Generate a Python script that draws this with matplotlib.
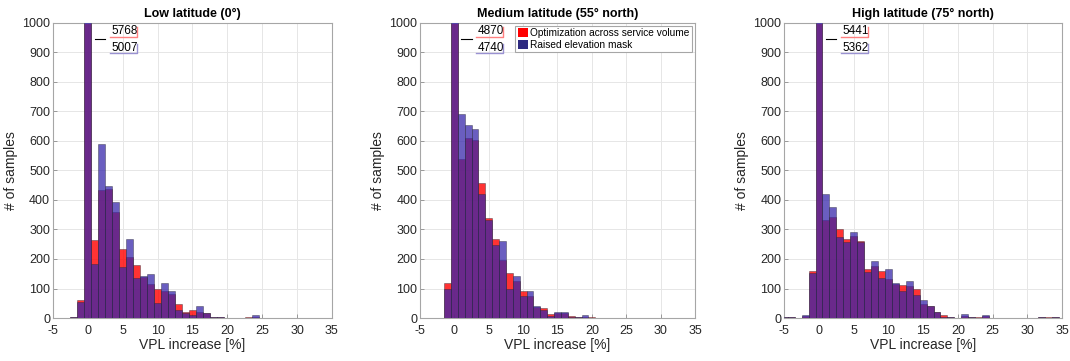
import numpy as np
import matplotlib
matplotlib.use('Agg')
import matplotlib.pyplot as plt
from matplotlib.patches import Patch

plt.rcParams['font.family'] = ['Liberation Sans', 'DejaVu Sans']
plt.rcParams['axes.unicode_minus'] = False

titles = ['Low latitude (0°)', 'Medium latitude (55° north)', 'High latitude (75° north)']
legend_labels = ['Optimization across service volume', 'Raised elevation mask']

# bin centres (bin width 1 %) and counts, red = optimization, blue = raised mask
low_bins = list(range(-2, 25))
low_red = [2, 62, 5768, 264, 434, 437, 358, 233, 206, 180, 140, 114, 99, 90, 82, 48, 20, 27, 20, 16, 5, 3, 0, 1, 1, 2, 5]
low_blue = [2, 53, 5007, 182, 590, 447, 393, 174, 269, 134, 142, 148, 51, 119, 93, 28, 16, 11, 40, 18, 4, 2, 0, 1, 1, 1, 10]

med_bins = list(range(-1, 21))
med_red = [117, 4870, 538, 609, 603, 456, 340, 266, 197, 152, 126, 90, 73, 38, 35, 14, 17, 18, 8, 3, 3, 5]
med_blue = [99, 4740, 690, 653, 641, 420, 332, 249, 260, 100, 142, 74, 90, 40, 28, 6, 20, 20, 2, 2, 10, 0]

high_bins = list(range(-5, 35))
high_red = [3, 3, 0, 8, 160, 5441, 333, 341, 303, 269, 278, 260, 165, 176, 159, 131, 115, 111, 108, 97, 49, 40, 22, 9, 3, 1,
            6, 4, 2, 6, 0, 0, 0, 0, 0, 0, 0, 2, 3, 3]
high_blue = [4, 3, 0, 9, 151, 5362, 420, 377, 274, 257, 290, 256, 155, 192, 136, 165, 118, 93, 124, 77, 60, 40, 22, 5, 5, 1,
             15, 2, 1, 10, 0, 0, 0, 0, 0, 0, 0, 2, 1, 5]

# counts of the clipped 0 % bin, written next to it
peak_red = [5768, 4870, 5441]
peak_blue = [5007, 4740, 5362]

panels = [(low_bins, low_red, low_blue), (med_bins, med_red, med_blue), (high_bins, high_red, high_blue)]
positions = [[0.0495, 0.119, 0.2607, 0.818], [0.3925, 0.119, 0.257, 0.818], [0.733, 0.119, 0.2595, 0.818]]

red_face = (1.0, 0.0, 0.0, 0.8)
blue_face = (0.21, 0.15, 0.67, 0.74)
edge = (0.15, 0.15, 0.2, 0.55)

fig = plt.figure(figsize=(10.7, 3.61), dpi=100)

for i, (bins, red, blue) in enumerate(panels):
    ax = fig.add_axes(positions[i])
    ax.bar(bins, red, width=1.0, color=red_face, edgecolor=edge, linewidth=0.5, zorder=2)
    ax.bar(bins, blue, width=1.0, color=blue_face, edgecolor=edge, linewidth=0.5, zorder=3)
    ax.set_xlim(-5, 35)
    ax.set_ylim(0, 1000)
    ax.set_xticks(np.arange(-5, 36, 5))
    ax.set_yticks(np.arange(0, 1001, 100))
    ax.grid(True, color='#e6e6e6', linewidth=0.7, zorder=0)
    ax.set_axisbelow(True)
    for s in ax.spines.values():
        s.set_color('#a6a6a6')
        s.set_linewidth(0.8)
    ax.tick_params(direction='in', length=3, width=0.6, color='#8c8c8c', labelsize=9,
                   labelcolor='#262626')
    ax.tick_params(axis='x', pad=5)
    ax.tick_params(axis='y', pad=2)
    ax.set_title(titles[i], fontsize=9, fontweight='bold', pad=4)
    ax.set_xlabel('VPL increase [%]', fontsize=10, color='#262626', labelpad=1)
    ax.set_ylabel('# of samples', fontsize=10, color='#262626', labelpad=3)

    # labels of the clipped peak
    ax.plot([1.0, 2.5], [945, 945], color='k', linewidth=0.8, clip_on=False, zorder=5)
    ax.text(3.4, 972, str(peak_red[i]), fontsize=8.5, va='center', ha='left', zorder=5)
    ax.plot([3.2, 7.1, 7.1], [951, 951, 984], color='#ff8080', linewidth=1.0, zorder=5)
    ax.text(3.4, 915, str(peak_blue[i]), fontsize=8.5, va='center', ha='left', zorder=5)
    ax.plot([3.2, 7.1, 7.1], [898, 898, 927], color='#9a92d2', linewidth=1.0, zorder=5)

    if i == 1:
        handles = [Patch(facecolor='#ff0000', edgecolor='none'), Patch(facecolor='#2e2a80', edgecolor='none')]
        leg = ax.legend(handles, legend_labels, loc='upper right', fontsize=7.3, fancybox=False,
                        borderaxespad=0.3, handlelength=1.0, handleheight=1.0, handletextpad=0.2,
                        borderpad=0.25, labelspacing=0.15, framealpha=1)
        leg.get_frame().set_edgecolor('#a6a6a6')
        leg.get_frame().set_linewidth(0.8)

plt.savefig('out.png', dpi=100)
